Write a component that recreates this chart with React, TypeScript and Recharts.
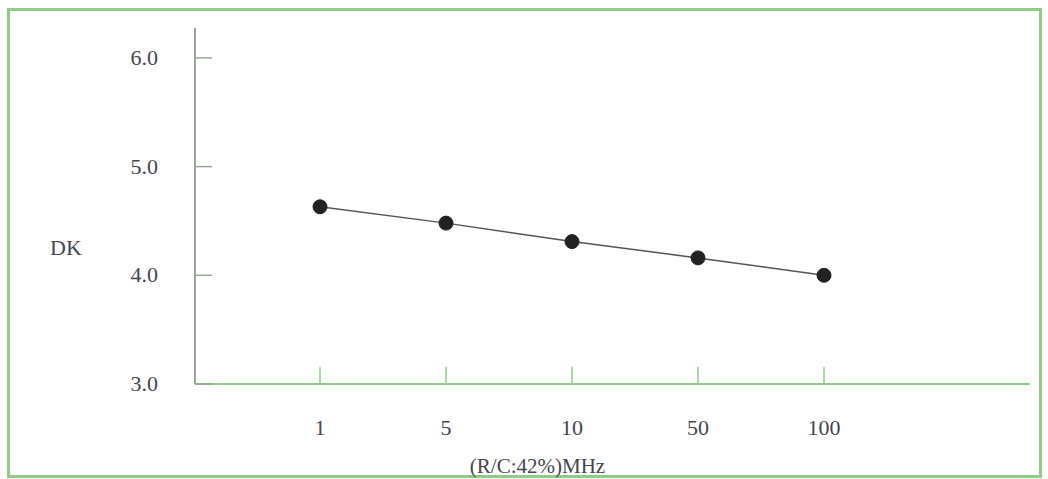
import { Line, LineChart, XAxis, YAxis, Label } from "recharts";

const frequencies = ["1", "5", "10", "50", "100"];
const dkValues = [4.63, 4.48, 4.31, 4.16, 4.0];
const yTicks = [3, 4, 5, 6];

const data = frequencies.map((f, i) => ({ freq: f, dk: dkValues[i] }));

const GREEN = "#8fcc88";
const TEXT = "#45454f";
const FONT = "'Liberation Serif', 'DejaVu Serif', serif";
const FS = 22;

const YTick = (props: any) => {
  const { x, y, payload } = props;
  return (
    <g>
      <line x1={x} y1={y} x2={x + 17} y2={y} stroke="#9aa59a" strokeWidth={1.5} />
      <text x={x - 37} y={y + 7} textAnchor="end" fontSize={FS} fill={TEXT} fontFamily={FONT}>
        {Number(payload.value).toFixed(1)}
      </text>
    </g>
  );
};

const XTick = (props: any) => {
  const { x, y, payload } = props;
  return (
    <g>
      <line x1={x} y1={y} x2={x} y2={y - 17} stroke={GREEN} strokeWidth={1.5} />
      <text x={x} y={y + 51} textAnchor="middle" fontSize={FS} fill={TEXT} fontFamily={FONT}>
        {payload.value}
      </text>
    </g>
  );
};

export default function App() {
  return (
    <div style={{ position: "absolute", left: 0, top: 0, width: 1048, height: 479, background: "#fff" }}>
      <div
        style={{
          position: "absolute",
          left: 7,
          top: 8,
          width: 1035,
          height: 470,
          border: `3px solid ${GREEN}`,
          boxSizing: "border-box",
        }}
      />
      <LineChart
        width={1048}
        height={479}
        data={data}
        margin={{ top: 28, right: 18, bottom: 0, left: 0 }}
        style={{ position: "absolute", left: 0, top: 0 }}
      >
        <XAxis
          dataKey="freq"
          type="category"
          padding={{ left: 125, right: 206 }}
          axisLine={{ stroke: GREEN, strokeWidth: 2 }}
          tickLine={false}
          tickSize={0}
          tickMargin={0}
          tick={<XTick />}
          height={95}
          interval={0}
        >
          <Label
            value="(R/C:42%)MHz"
            position="insideBottom"
            offset={6}
            fontSize={21}
            fill={TEXT}
            fontFamily={FONT}
            dx={-75}
          />
        </XAxis>
        <YAxis
          domain={[3, 6.275]}
          ticks={yTicks}
          allowDataOverflow
          width={195}
          axisLine={{ stroke: "#9aa59a", strokeWidth: 2 }}
          tickLine={false}
          tickSize={0}
          tickMargin={0}
          tick={<YTick />}
        >
          <Label
            value="DK"
            position="insideLeft"
            offset={50}
            fontSize={FS}
            fill={TEXT}
            fontFamily={FONT}
            dy={41}
          />
        </YAxis>
        <Line
          type="linear"
          dataKey="dk"
          stroke="#555"
          strokeWidth={1.5}
          dot={{ r: 7, fill: "#222", stroke: "#222", strokeWidth: 1 }}
          isAnimationActive={false}
        />
      </LineChart>
    </div>
  );
}
